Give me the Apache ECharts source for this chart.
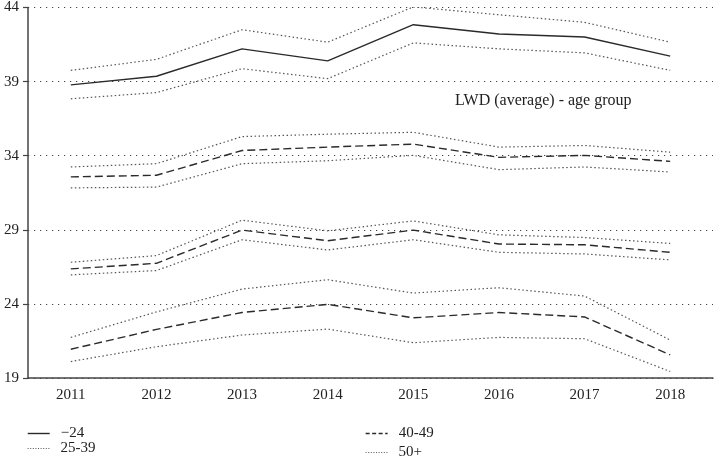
<!DOCTYPE html>
<html>
<head>
<meta charset="utf-8">
<script src="https://cdn.jsdelivr.net/npm/echarts@6/dist/echarts.min.js"></script>
<style>html,body{margin:0;padding:0;background:#fff}#c{width:715px;height:458px}</style>
</head>
<body>
<div id="c"></div>
<script>
const years = ['2011','2012','2013','2014','2015','2016','2017','2018'];
const yTicks = [19, 24, 29, 34, 39, 44];
const groupNames = ['\u221224', '25-39', '40-49', '50+'];

// group -24
const g1Mean  = [38.78, 39.36, 41.21, 40.40, 42.84, 42.21, 42.01, 40.72];
const g1Upper = [39.76, 40.50, 42.50, 41.66, 44.04, 43.51, 43.00, 41.66];
const g1Lower = [37.84, 38.26, 39.87, 39.20, 41.61, 41.21, 40.94, 39.76];
// group 25-39
const g2Mean  = [32.57, 32.68, 34.35, 34.58, 34.78, 33.89, 34.02, 33.62];
const g2Upper = [33.24, 33.46, 35.29, 35.45, 35.58, 34.58, 34.69, 34.24];
const g2Lower = [31.83, 31.88, 33.46, 33.66, 34.02, 33.06, 33.24, 32.90];
// group 40-49
const g3Mean  = [26.36, 26.74, 28.98, 28.26, 28.98, 28.04, 27.99, 27.48];
const g3Upper = [26.81, 27.26, 29.65, 28.93, 29.60, 28.66, 28.48, 28.08];
const g3Lower = [25.96, 26.25, 28.33, 27.64, 28.33, 27.48, 27.37, 26.97];
// group 50+
const g4Mean  = [20.94, 22.28, 23.42, 23.97, 23.06, 23.42, 23.12, 20.56];
const g4Upper = [21.74, 23.46, 25.00, 25.63, 24.73, 25.09, 24.53, 21.56];
const g4Lower = [20.11, 21.11, 21.90, 22.30, 21.38, 21.74, 21.65, 19.44];

const FONT = '"Liberation Serif", "DejaVu Serif", serif';
const DOT = [1.5, 2.5];
const DASH = [8, 4];

const groups = [
  {name: groupNames[0], mean: g1Mean, up: g1Upper, lo: g1Lower, type: 'solid'},
  {name: groupNames[1], mean: g2Mean, up: g2Upper, lo: g2Lower, type: DASH},
  {name: groupNames[2], mean: g3Mean, up: g3Upper, lo: g3Lower, type: DASH},
  {name: groupNames[3], mean: g4Mean, up: g4Upper, lo: g4Lower, type: DASH}
];

const series = [];
groups.forEach((g, i) => {
  series.push({
    name: g.name, type: 'line', data: g.mean, symbol: 'none', silent: true, z: 3,
    lineStyle: {color: '#2a2a2a', width: 1.4, type: g.type}, itemStyle: {color: '#2a2a2a'}
  });
  series.push({
    name: 'up' + i, type: 'line', data: g.up, symbol: 'none', silent: true, z: 2,
    lineStyle: {color: '#555', width: 1.2, type: DOT}
  });
  series.push({
    name: 'lo' + i, type: 'line', data: g.lo, symbol: 'none', silent: true, z: 2,
    lineStyle: {color: '#555', width: 1.2, type: DOT}
  });
});

const legendStyles = [
  {type: 'solid', color: '#2a2a2a', width: 1.4},
  {type: [1, 1.6], color: '#555', width: 1.2},
  {type: [4, 2.5], color: '#2a2a2a', width: 1.3},
  {type: [1, 1.6], color: '#555', width: 1.2}
];
const legendPos = [[27, 426], [27, 441], [365, 426], [365, 445]];

const legends = groupNames.map((n, i) => ({
  orient: 'horizontal', left: legendPos[i][0], top: legendPos[i][1],
  itemWidth: 22, itemHeight: 12, selectedMode: false,
  padding: 0, itemGap: 8,
  textStyle: {fontFamily: FONT, fontSize: 15, color: '#222', padding: [0, 0, 0, 6]},
  data: [{name: n, lineStyle: legendStyles[i],
          itemStyle: {color: 'rgba(0,0,0,0)', borderWidth: 0, opacity: 0}}]
}));

const chart = echarts.init(document.getElementById('c'), null, {renderer: 'canvas'});
chart.setOption({
  animation: false,
  backgroundColor: '#fff',
  title: {
    text: 'LWD (average) - age group', left: 450, top: 88,
    textStyle: {fontFamily: FONT, fontSize: 16, fontWeight: 'normal', color: '#222'}
  },
  legend: legends,
  grid: {left: 28, right: 2, top: 5, bottom: 80, containLabel: false},
  xAxis: {
    type: 'category', data: years, boundaryGap: true,
    axisLine: {lineStyle: {color: '#444', width: 1.5}},
    axisTick: {alignWithLabel: true, length: 6, lineStyle: {color: '#444', width: 1.2}},
    axisLabel: {fontFamily: FONT, fontSize: 15, color: '#222', margin: 10},
    splitLine: {show: false}
  },
  yAxis: {
    type: 'value', min: yTicks[0], max: yTicks[yTicks.length - 1], interval: yTicks[1] - yTicks[0],
    axisLine: {show: true, lineStyle: {color: '#444', width: 1.5}},
    axisTick: {show: true, length: 5, lineStyle: {color: '#444', width: 1.2}},
    axisLabel: {fontFamily: FONT, fontSize: 15, color: '#222', margin: 9},
    splitLine: {show: true, lineStyle: {color: '#444', width: 1.2, type: [1.2, 4.8]}}
  },
  series: series
});
</script>
</body>
</html>
